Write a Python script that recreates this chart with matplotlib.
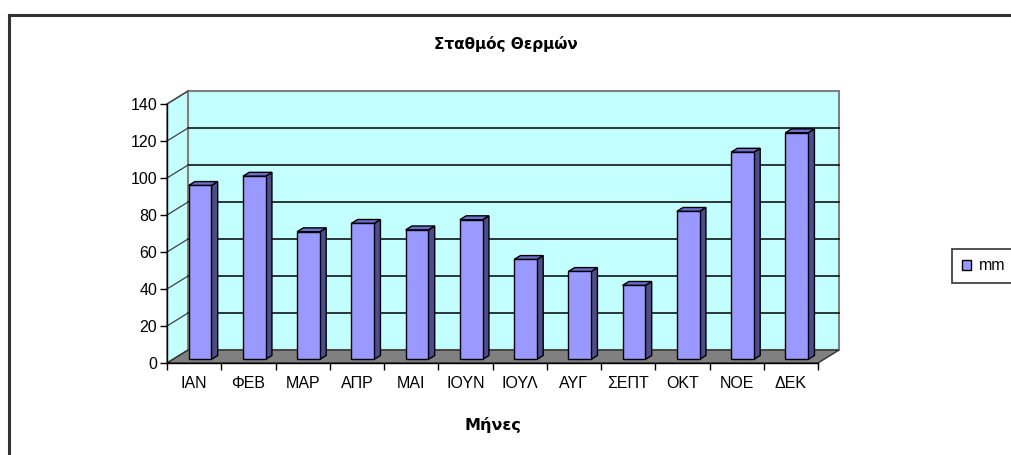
import matplotlib
matplotlib.use('Agg')
import matplotlib.pyplot as plt
from matplotlib.patches import Polygon, Rectangle, Patch
from matplotlib.lines import Line2D

plt.rcParams['font.family'] = ['Liberation Sans', 'DejaVu Sans']

# Daten (Niederschlag pro Monat)
months = ['ΙΑΝ', 'ΦΕΒ', 'ΜΑΡ', 'ΑΠΡ', 'ΜΑΙ', 'ΙΟΥΝ', 'ΙΟΥΛ', 'ΑΥΓ', 'ΣΕΠΤ', 'ΟΚΤ', 'ΝΟΕ', 'ΔΕΚ']
rain_mm = [94, 99, 69, 73.5, 70, 75.5, 54, 47.5, 40, 80, 112, 122.5]
y_ticks = [0, 20, 40, 60, 80, 100, 120, 140]

title = 'Σταθμός Θερμών'
xlabel = 'Μήνες'
series_name = 'mm'

# Farben im Excel-Stil
wall_col = '#C4FFFF'
floor_col = '#808080'
front_col = '#9999FF'
side_col = '#4D4D8C'
top_col = '#6E6ECC'

W, H = 1011, 455
fig = plt.figure(figsize=(W / 100, H / 100), dpi=100)
ax = fig.add_axes([167 / W, 1 - 363 / H, 651 / W, 259 / H])

n = len(months)
ymax = 140
dx, dy = 0.387, 7.0       # Tiefe des 3D-Effekts in Datenkoordinaten
bw = 0.42                 # Breite der Säulen
b0, b1 = 0.28, 0.58       # Lage der Säulen in der Tiefe

# Seitenwand, Rückwand und Boden
ax.add_patch(Polygon([(0, 0), (dx, dy), (dx, ymax + dy), (0, ymax)], closed=True,
                     facecolor=wall_col, edgecolor='#808080', lw=1.2, zorder=1, clip_on=False))
ax.add_patch(Rectangle((dx, dy), n, ymax, facecolor=wall_col, edgecolor='#808080',
                       lw=1.5, zorder=1, clip_on=False))
for v in y_ticks[1:-1]:
    ax.plot([dx, n + dx], [v + dy, v + dy], color='black', lw=1.1, zorder=2, clip_on=False)
for v in y_ticks[1:]:
    ax.plot([0, dx], [v, v + dy], color='#404040', lw=0.9, zorder=2, clip_on=False)
ax.add_patch(Polygon([(0, 0), (n, 0), (n + dx, dy), (dx, dy)], closed=True,
                     facecolor=floor_col, edgecolor='#303030', lw=1.0, zorder=2, clip_on=False))

# Säulen mit Front, Seite und Deckel
kw = dict(edgecolor='black', lw=1.0, zorder=3, clip_on=False)
for i, v in enumerate(rain_mm):
    x0 = i + 0.5 - bw / 2 + b0 * dx
    y0 = b0 * dy
    ddx = (b1 - b0) * dx
    ddy = (b1 - b0) * dy
    ax.add_patch(Polygon([(x0 + bw, y0), (x0 + bw + ddx, y0 + ddy),
                          (x0 + bw + ddx, y0 + v + ddy), (x0 + bw, y0 + v)],
                         closed=True, facecolor=side_col, **kw))
    ax.add_patch(Polygon([(x0, y0 + v), (x0 + bw, y0 + v),
                          (x0 + bw + ddx, y0 + v + ddy), (x0 + ddx, y0 + v + ddy)],
                         closed=True, facecolor=top_col, **kw))
    ax.add_patch(Rectangle((x0, y0), bw, v, facecolor=front_col, **kw))

ax.set_xlim(0, n)
ax.set_ylim(0, ymax)
ax.set_facecolor('none')
for s in ['top', 'right']:
    ax.spines[s].set_visible(False)
for s in ['left', 'bottom']:
    ax.spines[s].set_color('black')
    ax.spines[s].set_linewidth(1.0)
    ax.spines[s].set_zorder(4)

ax.set_yticks(y_ticks)
ax.tick_params(axis='y', direction='out', length=5, width=1, pad=2, labelsize=11.5)
ax.set_xticks(range(n + 1))
ax.set_xticklabels([])
ax.set_xticks([i + 0.5 for i in range(n)], minor=True)
ax.set_xticklabels(months, minor=True)
ax.tick_params(axis='x', which='major', direction='out', length=5, width=1)
ax.tick_params(axis='x', which='minor', length=0, pad=9.5, labelsize=11.5)

fig.text(506 / W, 1 - 44 / H, title, ha='center', va='center', fontsize=11,
         fontweight='bold', family='DejaVu Sans')
fig.text(493 / W, 1 - 425 / H, xlabel, ha='center', va='center', fontsize=11.5,
         fontweight='bold', family='DejaVu Sans')

leg = ax.legend([Patch(facecolor=front_col, edgecolor='black')], [series_name],
                loc='center left', bbox_to_anchor=(952 / W, 1 - 266 / H),
                bbox_transform=fig.transFigure, fontsize=11.5, frameon=True,
                fancybox=False, borderpad=0.6, handlelength=0.6, handleheight=0.6,
                handletextpad=0.5, borderaxespad=0)
leg.get_frame().set_edgecolor('black')
leg.get_frame().set_linewidth(1.2)

# Rahmen des Diagramms (rechts und unten abgeschnitten)
fig.add_artist(Line2D([9 / W, 9 / W], [0, 1 - 15 / H], transform=fig.transFigure,
                      color='#333333', lw=2.2))
fig.add_artist(Line2D([9 / W, 1], [1 - 15 / H, 1 - 15 / H], transform=fig.transFigure,
                      color='#333333', lw=2.2))

fig.savefig('out.png', dpi=100)
